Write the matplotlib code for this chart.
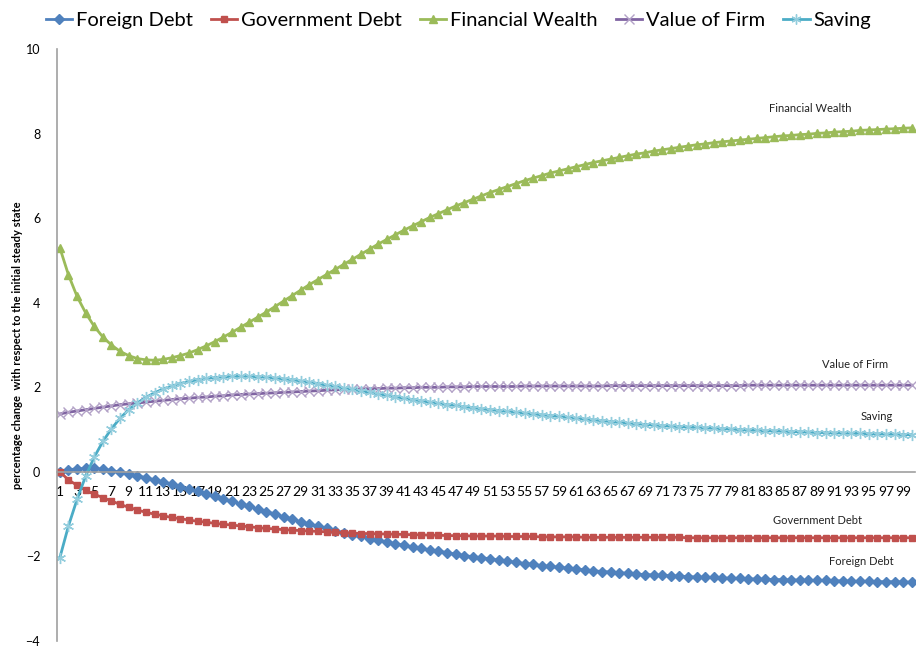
import numpy as np
import matplotlib.pyplot as plt

plt.rcParams['font.family'] = ['Lato', 'DejaVu Sans']

periods = np.arange(1, 101)

foreign_debt = [
    0.00, 0.05, 0.07, 0.08, 0.08, 0.06, 0.03, -0.01, -0.05, -0.09,
    -0.14, -0.19, -0.24, -0.29, -0.35, -0.40, -0.46, -0.52, -0.58, -0.64,
    -0.70, -0.76, -0.82, -0.88, -0.94, -1.00, -1.06, -1.12, -1.18, -1.24,
    -1.29, -1.34, -1.39, -1.44, -1.49, -1.53, -1.58, -1.62, -1.66, -1.70,
    -1.74, -1.78, -1.81, -1.85, -1.88, -1.91, -1.95, -1.98, -2.01, -2.03,
    -2.06, -2.09, -2.12, -2.14, -2.17, -2.19, -2.22, -2.24, -2.26, -2.28,
    -2.30, -2.32, -2.34, -2.36, -2.37, -2.39, -2.40, -2.42, -2.43, -2.44,
    -2.45, -2.46, -2.47, -2.48, -2.49, -2.50, -2.50, -2.51, -2.52, -2.52,
    -2.53, -2.54, -2.54, -2.55, -2.55, -2.56, -2.56, -2.57, -2.57, -2.57,
    -2.58, -2.58, -2.59, -2.59, -2.59, -2.60, -2.60, -2.60, -2.61, -2.61,
]

government_debt = [
    0.00, -0.19, -0.32, -0.44, -0.53, -0.61, -0.69, -0.77, -0.84, -0.90,
    -0.96, -1.00, -1.04, -1.08, -1.11, -1.14, -1.17, -1.19, -1.22, -1.24,
    -1.26, -1.28, -1.30, -1.32, -1.34, -1.35, -1.37, -1.38, -1.39, -1.40,
    -1.41, -1.42, -1.43, -1.44, -1.45, -1.46, -1.46, -1.47, -1.47, -1.48,
    -1.48, -1.49, -1.49, -1.50, -1.50, -1.51, -1.51, -1.51, -1.52, -1.52,
    -1.52, -1.52, -1.53, -1.53, -1.53, -1.53, -1.54, -1.54, -1.54, -1.54,
    -1.54, -1.55, -1.55, -1.55, -1.55, -1.55, -1.55, -1.55, -1.55, -1.55,
    -1.55, -1.55, -1.55, -1.56, -1.56, -1.56, -1.56, -1.56, -1.56, -1.56,
    -1.56, -1.56, -1.56, -1.56, -1.56, -1.56, -1.56, -1.56, -1.56, -1.56,
    -1.56, -1.56, -1.56, -1.56, -1.56, -1.56, -1.56, -1.56, -1.56, -1.56,
]

financial_wealth = [
    5.30, 4.66, 4.15, 3.76, 3.44, 3.19, 3.00, 2.85, 2.75, 2.68,
    2.65, 2.64, 2.66, 2.70, 2.75, 2.81, 2.89, 2.98, 3.08, 3.19,
    3.30, 3.42, 3.54, 3.66, 3.78, 3.91, 4.04, 4.17, 4.30, 4.43,
    4.55, 4.67, 4.79, 4.91, 5.03, 5.15, 5.27, 5.39, 5.50, 5.61,
    5.72, 5.82, 5.92, 6.02, 6.11, 6.20, 6.29, 6.37, 6.45, 6.53,
    6.61, 6.68, 6.75, 6.82, 6.89, 6.95, 7.01, 7.07, 7.12, 7.17,
    7.22, 7.27, 7.32, 7.36, 7.40, 7.44, 7.48, 7.52, 7.55, 7.59,
    7.62, 7.65, 7.68, 7.71, 7.74, 7.76, 7.79, 7.81, 7.83, 7.85,
    7.87, 7.89, 7.91, 7.93, 7.95, 7.96, 7.98, 7.99, 8.01, 8.02,
    8.04, 8.05, 8.06, 8.08, 8.09, 8.10, 8.11, 8.12, 8.13, 8.14,
]

value_of_firm = [
    1.37, 1.41, 1.44, 1.47, 1.50, 1.53, 1.56, 1.59, 1.61, 1.63,
    1.65, 1.67, 1.69, 1.71, 1.73, 1.74, 1.76, 1.77, 1.79, 1.80,
    1.82, 1.83, 1.84, 1.85, 1.86, 1.87, 1.88, 1.89, 1.90, 1.91,
    1.92, 1.93, 1.94, 1.95, 1.95, 1.96, 1.97, 1.97, 1.98, 1.98,
    1.99, 1.99, 2.00, 2.00, 2.00, 2.01, 2.01, 2.01, 2.02, 2.02,
    2.02, 2.02, 2.02, 2.02, 2.03, 2.03, 2.03, 2.03, 2.03, 2.03,
    2.03, 2.03, 2.03, 2.03, 2.04, 2.04, 2.04, 2.04, 2.04, 2.04,
    2.04, 2.04, 2.04, 2.04, 2.04, 2.04, 2.04, 2.04, 2.04, 2.04,
    2.05, 2.05, 2.05, 2.05, 2.05, 2.05, 2.05, 2.05, 2.05, 2.05,
    2.05, 2.05, 2.05, 2.05, 2.05, 2.05, 2.05, 2.05, 2.05, 2.05,
]

saving = [
    -2.03, -1.28, -0.65, -0.10, 0.35, 0.72, 1.02, 1.27, 1.47, 1.63,
    1.76, 1.87, 1.96, 2.03, 2.09, 2.14, 2.18, 2.21, 2.23, 2.25,
    2.26, 2.26, 2.26, 2.25, 2.24, 2.22, 2.20, 2.18, 2.15, 2.12,
    2.09, 2.05, 2.02, 1.98, 1.95, 1.91, 1.88, 1.84, 1.81, 1.78,
    1.74, 1.71, 1.68, 1.65, 1.62, 1.59, 1.57, 1.54, 1.52, 1.49,
    1.47, 1.45, 1.43, 1.41, 1.39, 1.37, 1.35, 1.33, 1.31, 1.29,
    1.27, 1.25, 1.23, 1.21, 1.19, 1.17, 1.15, 1.14, 1.12, 1.11,
    1.09, 1.08, 1.07, 1.06, 1.05, 1.04, 1.03, 1.02, 1.01, 1.00,
    0.99, 0.98, 0.97, 0.97, 0.96, 0.95, 0.95, 0.94, 0.93, 0.93,
    0.92, 0.92, 0.91, 0.91, 0.90, 0.90, 0.89, 0.89, 0.88, 0.88,
]

fig = plt.figure(figsize=(9.17, 6.48), dpi=100)
ax = fig.add_axes([0.062, 0.011, 0.936, 0.913])

lw = 2.0
ax.plot(periods, foreign_debt, color='#4F81BD', lw=lw, marker='D', ms=5.5,
        label='Foreign Debt')
ax.plot(periods, government_debt, color='#C0504D', lw=lw, marker='s', ms=5,
        label='Government Debt')
ax.plot(periods, financial_wealth, color='#9BBB59', lw=lw, marker='^', ms=6,
        label='Financial Wealth')
ax.plot(periods, value_of_firm, color='#8064A2', lw=lw, marker='x', ms=7.5,
        mec='#B3A2C7', mew=1.0, label='Value of Firm')
ax.plot(periods, saving, color='#4BACC6', lw=lw, marker=(6, 2, 0), ms=8,
        mec='#93CDDD', mew=1.0, label='Saving')

# series names written at the right-hand end of each line
label_kw = dict(fontsize=8, ha='center', va='center', color='#222222')
ax.text(88.2, 8.6, 'Financial Wealth', **label_kw)
ax.text(93.4, 2.53, 'Value of Firm', **label_kw)
ax.text(95.9, 1.30, 'Saving', **label_kw)
ax.text(89.1, -1.16, 'Government Debt', **label_kw)
ax.text(94.1, -2.11, 'Foreign Debt', **label_kw)

ax.set_xlim(0.65, 100.4)
ax.set_ylim(-4, 10)
ax.set_yticks(np.arange(-4, 11, 2))
ax.set_xticks(periods[::2])
ax.set_xticklabels([str(p) for p in periods[::2]], fontsize=9)
ax.tick_params(axis='y', length=0, labelsize=9, pad=12)
ax.tick_params(axis='x', length=0, pad=10)

for side in ('top', 'right'):
    ax.spines[side].set_visible(False)
ax.spines['bottom'].set_position(('data', 0))
ax.spines['bottom'].set_color('#A0A0A0')
ax.spines['left'].set_color('#A0A0A0')
ax.spines['bottom'].set_linewidth(1.2)
ax.spines['left'].set_linewidth(1.2)

ax.set_ylabel('percentage change  with respect to the initial steady state',
              fontsize=8, fontweight='bold', labelpad=2)

fig.legend(loc='upper center', bbox_to_anchor=(0.5, 1.01), ncol=5,
           frameon=False, fontsize=14.5, handlelength=1.3, handletextpad=0.2,
           columnspacing=0.9, markerscale=0.9)

fig.savefig('out.png', dpi=100)
